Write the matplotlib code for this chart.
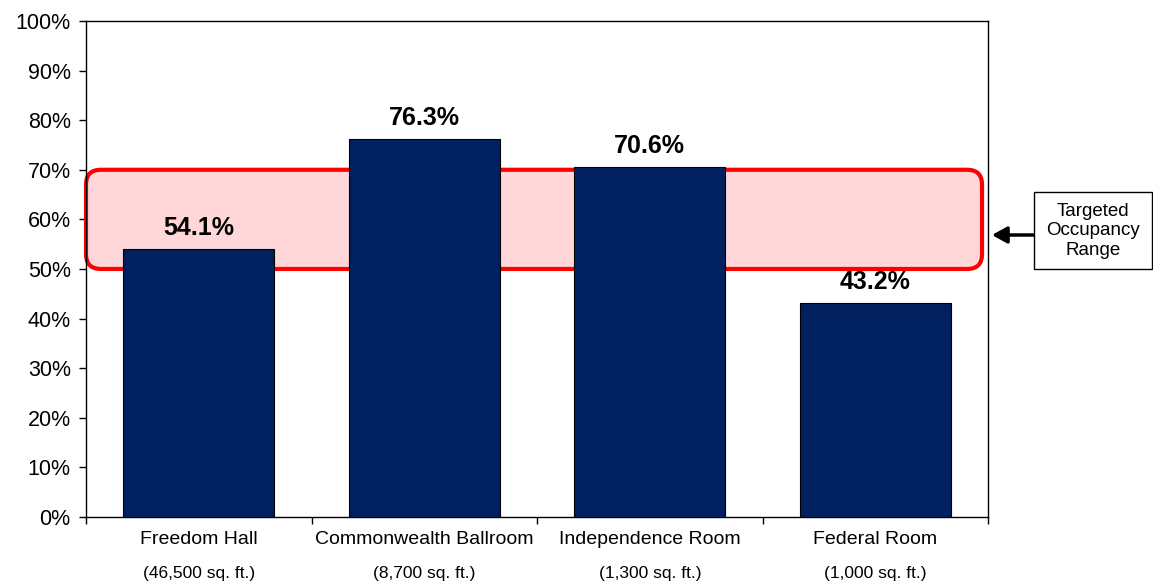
import matplotlib
matplotlib.use("Agg")
from matplotlib import pyplot as plt
from matplotlib.patches import FancyBboxPatch, Rectangle, FancyArrowPatch
from matplotlib.ticker import FixedLocator, PercentFormatter

plt.rcParams['font.family'] = ['Liberation Sans', 'DejaVu Sans']

# Data
rooms = ["Freedom Hall", "Commonwealth Ballroom", "Independence Room", "Federal Room"]
sizes = ["(46,500 sq. ft.)", "(8,700 sq. ft.)", "(1,300 sq. ft.)", "(1,000 sq. ft.)"]
occupancy = [54.1, 76.3, 70.6, 43.2]
target_low, target_high = 50, 70


def main():
    fig = plt.figure(figsize=(11.53, 5.82), dpi=100)
    ax = fig.add_axes([0.0746, 0.1117, 0.857 - 0.0746, 0.964 - 0.1117])

    x = list(range(len(rooms)))
    bars = ax.bar(x, occupancy, width=0.67, color="#002060", edgecolor="black",
                  linewidth=0.8, zorder=3)

    # Value labels
    for b, v in zip(bars, occupancy):
        ax.annotate(f"{v:.1f}%", (b.get_x() + b.get_width() / 2, v),
                    xytext=(0, 6), textcoords="offset points",
                    ha="center", va="bottom", fontsize=18, fontweight="bold")

    ax.set_xlim(-0.5, 3.5)
    ax.set_ylim(0, 100)

    # Targeted range box (rounded, drawn under the bars)
    rbox = FancyBboxPatch((-0.5, target_low), 3.973, target_high - target_low,
                          boxstyle="round,pad=0,rounding_size=0.066",
                          mutation_aspect=45.0,
                          facecolor="#FFD7D9", edgecolor="#FF0000",
                          linewidth=3, zorder=2, clip_on=False)
    ax.add_patch(rbox)

    # Axes styling
    ax.set_yticks(range(0, 101, 10))
    ax.yaxis.set_major_formatter(PercentFormatter(decimals=0))
    ax.tick_params(axis="y", direction="out", length=5, width=1, labelsize=15.5, pad=6)
    ax.set_xticks([])
    ax.xaxis.set_minor_locator(FixedLocator([-0.5, 0.5, 1.5, 2.5, 3.5]))
    ax.tick_params(axis="x", which="minor", direction="out", length=5, width=1)
    for s in ax.spines.values():
        s.set_linewidth(1)

    # Category labels
    tr = ax.get_xaxis_transform()
    for i, (name, sz) in enumerate(zip(rooms, sizes)):
        ax.text(i, -0.046, name, transform=tr, ha="center", va="center", fontsize=14)
        ax.text(i, -0.113, sz, transform=tr, ha="center", va="center", fontsize=12.5)

    # Side annotation
    fig.patches.append(Rectangle((1034 / 1153, 1 - 269 / 582), 118 / 1153, 77 / 582,
                                 transform=fig.transFigure, facecolor="white",
                                 edgecolor="black", linewidth=1))
    fig.text(1093 / 1153, 1 - 231 / 582, "Targeted\nOccupancy\nRange",
             ha="center", va="center", fontsize=13.5, linespacing=1.2)
    fig.add_artist(FancyArrowPatch(
        (1034 / 1153, 1 - 235 / 582), (992 / 1153, 1 - 235 / 582),
        transform=fig.transFigure, arrowstyle="-|>,head_length=9,head_width=5",
        color="black", linewidth=2.5, shrinkA=0, shrinkB=0))

    fig.savefig("out.png", dpi=100)


if __name__ == '__main__':
    main()
